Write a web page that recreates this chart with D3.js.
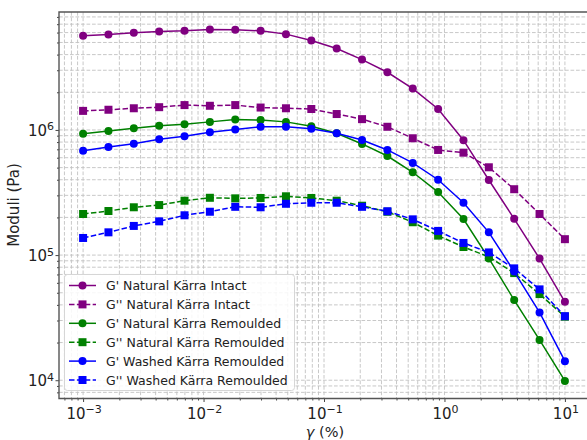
<!DOCTYPE html>
<html>
<head>
<meta charset="utf-8">
<script src="https://cdn.jsdelivr.net/npm/d3@7"></script>
<style>
  body { margin: 0; background: #fff; }
  text { font-family: "DejaVu Sans", sans-serif; }
</style>
</head>
<body>
<script>
// strain amplitude, 20 points log-spaced from 1e-3 to 1e1 (%)
var strain = [0.001, 0.001623777, 0.002636651, 0.004281332, 0.006951928, 0.011288379, 0.018329807,
  0.029763514, 0.048329302, 0.078475997, 0.127427499, 0.206913808, 0.335981829, 0.545559478,
  0.885866790, 1.438449888, 2.335721469, 3.792690191, 6.158482111, 10];

var seriesNames = ["G' Natural Kärra Intact", "G'' Natural Kärra Intact",
  "G' Natural Kärra Remoulded", "G'' Natural Kärra Remoulded",
  "G' Washed Kärra Remoulded", "G'' Washed Kärra Remoulded"];

var gpNatIntact = [5.65e6, 5.78e6, 5.97e6, 6.11e6, 6.19e6, 6.34e6, 6.31e6, 6.19e6, 5.83e6, 5.18e6,
  4.47e6, 3.65e6, 2.89e6, 2.14e6, 1.47e6, 8.28e5, 3.98e5, 1.95e5, 9.38e4, 4.23e4];
var gppNatIntact = [1.42e6, 1.45e6, 1.49e6, 1.52e6, 1.58e6, 1.56e6, 1.58e6, 1.51e6, 1.49e6, 1.47e6,
  1.34e6, 1.22e6, 1.06e6, 8.58e5, 6.92e5, 6.58e5, 5.03e5, 3.36e5, 2.13e5, 1.34e5];
var gpNatRem = [9.34e5, 9.82e5, 1.03e6, 1.08e6, 1.11e6, 1.16e6, 1.21e6, 1.20e6, 1.16e6, 1.07e6,
  9.41e5, 7.73e5, 6.19e5, 4.59e5, 3.19e5, 1.94e5, 9.41e4, 4.37e4, 2.10e4, 9.87e3];
var gppNatRem = [2.13e5, 2.25e5, 2.41e5, 2.51e5, 2.72e5, 2.87e5, 2.84e5, 2.86e5, 2.95e5, 2.86e5,
  2.72e5, 2.48e5, 2.22e5, 1.83e5, 1.43e5, 1.16e5, 9.68e4, 7.18e4, 4.88e4, 3.22e4];
var gpWashRem = [6.83e5, 7.31e5, 7.76e5, 8.43e5, 8.91e5, 9.59e5, 1.01e6, 1.06e6, 1.06e6, 1.02e6,
  9.41e5, 8.32e5, 6.92e5, 5.45e5, 4.00e5, 2.62e5, 1.52e5, 7.38e4, 3.48e4, 1.42e4];
var gppWashRem = [1.37e5, 1.52e5, 1.71e5, 1.86e5, 2.08e5, 2.22e5, 2.43e5, 2.41e5, 2.57e5, 2.62e5,
  2.62e5, 2.43e5, 2.24e5, 1.93e5, 1.56e5, 1.25e5, 1.05e5, 7.83e4, 5.32e4, 3.25e4];

var xTicks = [1e-3, 1e-2, 1e-1, 1, 10];
var yTicks = [1e4, 1e5, 1e6];

var colors = ["#800080", "#800080", "#008000", "#008000", "#0000ff", "#0000ff"];
var allSeries = [gpNatIntact, gppNatIntact, gpNatRem, gppNatRem, gpWashRem, gppWashRem];

var W = 587, H = 440;
var pL = 59, pT = 12, pR = 589, pB = 398.5;

var svg = d3.select('body').append('svg').attr('width', W).attr('height', H);

// log-space 5% margins like matplotlib
function pad(ext) {
  var a = Math.log10(ext[0]), b = Math.log10(ext[1]), m = (b - a) * 0.05;
  return [Math.pow(10, a - m), Math.pow(10, b + m)];
}
var x = d3.scaleLog().domain(pad(d3.extent(strain))).range([pL, pR]);
var yExt = d3.extent(d3.merge(allSeries));
var y = d3.scaleLog().domain(pad(yExt)).range([pB, pT]);

function minorTicks(sc) {
  var d = sc.domain(), out = [];
  for (var e = Math.floor(Math.log10(d[0])); e <= Math.ceil(Math.log10(d[1])); e++) {
    for (var k = 1; k < 10; k++) {
      var v = k * Math.pow(10, e);
      if (v >= d[0] && v <= d[1]) out.push({v: v, major: k === 1});
    }
  }
  return out;
}
var xt = minorTicks(x), yt = minorTicks(y);

svg.append('clipPath').attr('id', 'clip').append('rect')
  .attr('x', pL).attr('y', pT).attr('width', pR - pL).attr('height', pB - pT);

var grid = svg.append('g').attr('clip-path', 'url(#clip)');
grid.selectAll('.gx').data(xt).enter().append('line')
  .attr('x1', function (d) { return x(d.v); }).attr('x2', function (d) { return x(d.v); })
  .attr('y1', pT).attr('y2', pB)
  .attr('stroke', '#c2c2c2').attr('stroke-width', 0.9).attr('stroke-dasharray', '3.7,1.8');
grid.selectAll('.gy').data(yt).enter().append('line')
  .attr('y1', function (d) { return y(d.v); }).attr('y2', function (d) { return y(d.v); })
  .attr('x1', pL).attr('x2', pR)
  .attr('stroke', '#c2c2c2').attr('stroke-width', 0.9).attr('stroke-dasharray', '3.7,1.8');

// series
var line = d3.line()
  .x(function (d) { return x(d[0]); })
  .y(function (d) { return y(d[1]); });

var plot = svg.append('g').attr('clip-path', 'url(#clip)');
allSeries.forEach(function (vals, s) {
  var pts = strain.map(function (xv, i) { return [xv, vals[i]]; });
  var dashed = s % 2 === 1;
  plot.append('path').datum(pts).attr('d', line)
    .attr('fill', 'none').attr('stroke', colors[s]).attr('stroke-width', 1.5)
    .attr('stroke-dasharray', dashed ? '5.5,2.4' : null);
  if (dashed) {
    plot.selectAll('.sq' + s).data(pts).enter().append('rect')
      .attr('x', function (d) { return x(d[0]) - 4; })
      .attr('y', function (d) { return y(d[1]) - 4; })
      .attr('width', 8).attr('height', 8).attr('fill', colors[s]);
  } else {
    plot.selectAll('.ci' + s).data(pts).enter().append('circle')
      .attr('cx', function (d) { return x(d[0]); })
      .attr('cy', function (d) { return y(d[1]); })
      .attr('r', 4).attr('fill', colors[s]);
  }
});

// axes
function supLabel(sel, v) {
  var e = Math.round(Math.log10(v));
  sel.text('');
  sel.append('tspan').text('10');
  sel.append('tspan').attr('dy', '-0.5em').attr('font-size', '11px')
    .text(String(e).replace('-', '\u2212'));
}

var xAxis = d3.axisBottom(x).tickValues(xt.map(function (d) { return d.v; }))
  .tickSize(2).tickFormat('');
svg.append('g').attr('transform', 'translate(0,' + pB + ')').call(xAxis)
  .call(function (g) {
    g.select('.domain').remove();
    g.selectAll('.tick line').attr('stroke', '#444')
      .attr('y2', function (d) { return xTicks.indexOf(d) >= 0 ? 3.5 : 2; });
  });
var yAxis = d3.axisLeft(y).tickValues(yt.map(function (d) { return d.v; }))
  .tickSize(2).tickFormat('');
svg.append('g').attr('transform', 'translate(' + pL + ',0)').call(yAxis)
  .call(function (g) {
    g.select('.domain').remove();
    g.selectAll('.tick line').attr('stroke', '#444')
      .attr('x2', function (d) { return yTicks.indexOf(d) >= 0 ? -3.5 : -2; });
  });

svg.selectAll('.xl').data(xTicks).enter().append('text')
  .attr('x', function (d) { return x(d) + 1; }).attr('y', pB + 20)
  .attr('text-anchor', 'middle').attr('font-size', '15px').attr('fill', '#222')
  .each(function (d) { supLabel(d3.select(this), d); });
svg.selectAll('.yl').data(yTicks).enter().append('text')
  .attr('x', pL - 5).attr('y', function (d) { return y(d) + 6; })
  .attr('text-anchor', 'end').attr('font-size', '15px').attr('fill', '#222')
  .each(function (d) { supLabel(d3.select(this), d); });

// spines
svg.append('path')
  .attr('d', 'M' + pR + ',' + pT + 'H' + pL + 'V' + pB + 'H' + pR)
  .attr('fill', 'none').attr('stroke', '#555').attr('stroke-width', 1.4);

// axis titles
svg.append('text').attr('x', 325).attr('y', 437).attr('text-anchor', 'middle')
  .attr('font-size', '14.5px').attr('fill', '#222')
  .html('<tspan font-style="italic">\u03b3</tspan> (%)');
svg.append('text').attr('transform', 'translate(19,205) rotate(-90)')
  .attr('text-anchor', 'middle').attr('font-size', '15px').attr('fill', '#222')
  .text('Moduli (Pa)');

// legend
var lg = svg.append('g');
lg.append('rect').attr('x', 64.5).attr('y', 274.5).attr('width', 230).attr('height', 116)
  .attr('rx', 3).attr('fill', 'rgba(255,255,255,0.85)').attr('stroke', '#d6d6d6');
seriesNames.forEach(function (n, s) {
  var ly = 285.5 + s * 18.9;
  var dashed = s % 2 === 1;
  lg.append('line').attr('x1', 69).attr('x2', 96).attr('y1', ly).attr('y2', ly)
    .attr('stroke', colors[s]).attr('stroke-width', 1.5)
    .attr('stroke-dasharray', dashed ? '5.5,2.4' : null);
  if (dashed) {
    lg.append('rect').attr('x', 78.5).attr('y', ly - 4).attr('width', 8).attr('height', 8)
      .attr('fill', colors[s]);
  } else {
    lg.append('circle').attr('cx', 82.5).attr('cy', ly).attr('r', 4).attr('fill', colors[s]);
  }
  lg.append('text').attr('x', 106).attr('y', ly + 4.5).attr('font-size', '12.5px')
    .attr('fill', '#222').text(n);
});
</script>
</body>
</html>
